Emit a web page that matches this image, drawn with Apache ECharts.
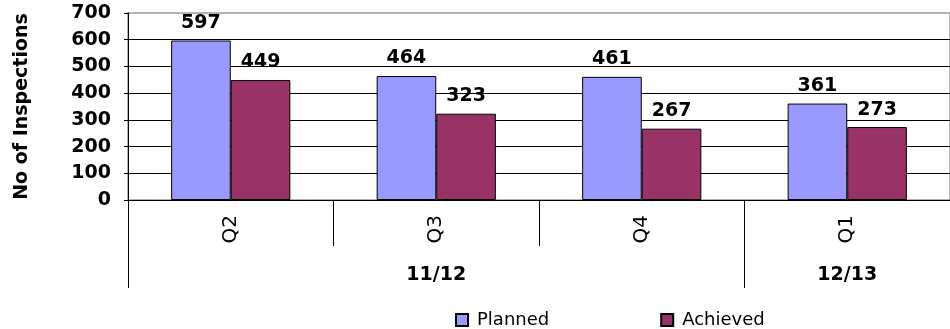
<!DOCTYPE html>
<html>
<head>
<meta charset="utf-8">
<script src="https://cdn.jsdelivr.net/npm/echarts@6/dist/echarts.min.js"></script>
<style>
  html, body { margin: 0; padding: 0; background: #fff; }
  #main { width: 950px; height: 329px; }
</style>
</head>
<body>
<div id="main"></div>
<script>
// 数据
var quarters = ['Q2', 'Q3', 'Q4', 'Q1'];
var years = ['11/12', '12/13'];
var yearSpans = [3, 1];          // 每个财年包含的季度数
var planned = [597, 464, 461, 361];
var achieved = [449, 323, 267, 273];

// 财年分组的边界和中心
var yearBounds = [0];
var yearCenters = [];
yearSpans.forEach(function (n, i) {
    var start = yearBounds[i];
    yearBounds.push(start + n);
    yearCenters.push(start + n / 2);
});

var myChart = echarts.init(document.getElementById('main'));
var font = 'DejaVu Sans';

var option = {
    animation: false,
    textStyle: { fontFamily: font },
    grid: {
        left: 128, right: -7, top: 13, bottom: 129,
        show: true, borderColor: '#999', borderWidth: 1.5
    },
    legend: {
        left: 450, top: 306,
        itemWidth: 12, itemHeight: 12, itemGap: 111,
        icon: 'rect',
        textStyle: { fontFamily: font, fontSize: 18, color: '#000', padding: [0, 0, 0, 4] },
        data: ['Planned', 'Achieved']
    },
    xAxis: [
        {
            type: 'category',
            data: quarters,
            axisLine: { show: true, lineStyle: { color: '#000', width: 1 } },
            axisTick: { show: true, interval: 0, length: 46, lineStyle: { color: '#000', width: 1 } },
            axisLabel: {
                rotate: 90, margin: 15,
                fontFamily: font, fontSize: 20, color: '#000'
            }
        },
        {
            type: 'value',
            min: 0, max: quarters.length,
            position: 'bottom',
            offset: 46,
            axisLine: { show: false },
            splitLine: { show: false },
            axisTick: {
                show: true, length: 42,
                customValues: yearBounds,
                lineStyle: { color: '#000' }
            },
            axisLabel: {
                customValues: yearCenters,
                margin: 20,
                fontFamily: font, fontSize: 19, fontWeight: 'bold', color: '#000',
                formatter: function (v) {
                    return years[yearCenters.indexOf(v)] || '';
                }
            }
        }
    ],
    yAxis: {
        type: 'value',
        min: 0, max: 700, interval: 100,
        name: 'No of Inspections',
        nameLocation: 'middle',
        nameRotate: 90,
        nameGap: 96,
        nameTextStyle: { fontFamily: font, fontSize: 19, fontWeight: 'bold', color: '#000' },
        axisLine: { show: true, lineStyle: { color: '#000' } },
        axisTick: { show: true, length: 4, lineStyle: { color: '#000' } },
        axisLabel: { margin: 17, fontFamily: font, fontSize: 19, fontWeight: 'bold', color: '#000' },
        splitLine: { show: true, showMaxLine: false, lineStyle: { color: '#000', width: 1 } }
    },
    series: [
        {
            name: 'Planned',
            type: 'bar',
            barGap: '0%',
            barCategoryGap: '42%',
            data: planned,
            itemStyle: { color: '#9999FF', borderColor: '#000', borderWidth: 1 },
            label: {
                show: true, position: 'top', distance: 8,
                fontFamily: font, fontSize: 19, fontWeight: 'bold', color: '#000'
            }
        },
        {
            name: 'Achieved',
            type: 'bar',
            data: achieved,
            itemStyle: { color: '#993366', borderColor: '#000', borderWidth: 1 },
            label: {
                show: true, position: 'top', distance: 8,
                fontFamily: font, fontSize: 19, fontWeight: 'bold', color: '#000'
            }
        }
    ]
};
myChart.setOption(option);
</script>
</body>
</html>
